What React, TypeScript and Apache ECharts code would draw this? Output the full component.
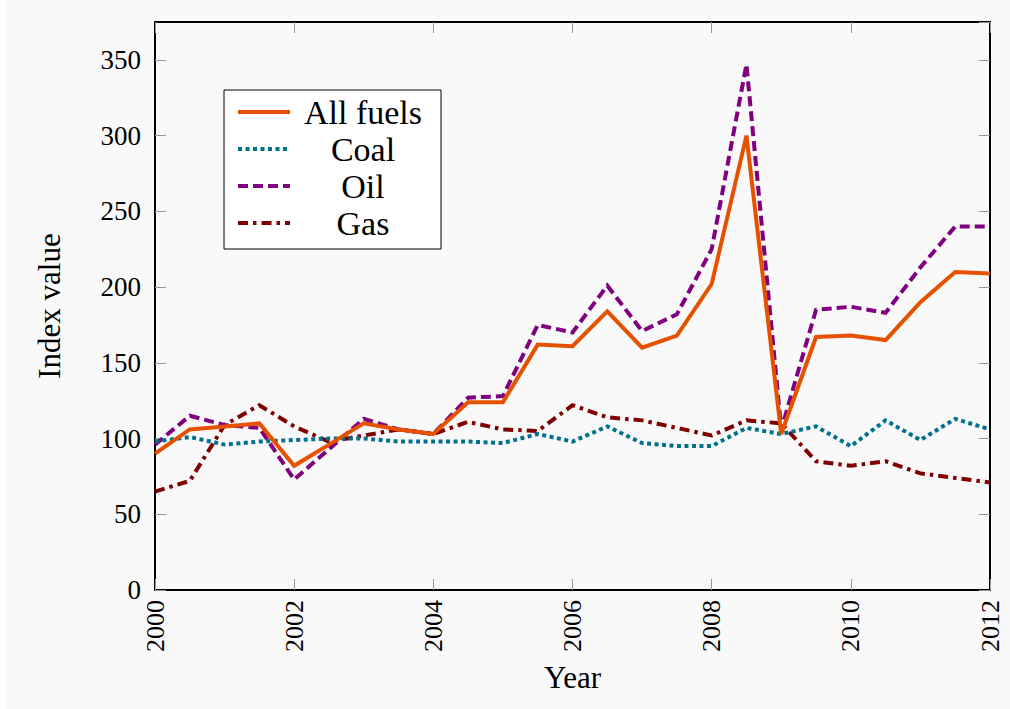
import React, { useEffect, useRef } from "react";
import * as echarts from "echarts";

const years = [2000, 2000.5, 2001, 2001.5, 2002, 2002.5, 2003, 2003.5, 2004, 2004.5, 2005, 2005.5, 2006, 2006.5, 2007, 2007.5, 2008, 2008.5, 2009, 2009.5, 2010, 2010.5, 2011, 2011.5, 2012];
const allFuels = [90, 106, 108, 110, 82, 96, 110, 106, 103, 124, 124, 162, 161, 184, 160, 168, 202, 300, 103, 167, 168, 165, 190, 210, 209];
const coal = [98, 101, 96, 98, 99, 100, 100, 98, 98, 98, 97, 103, 98, 108, 97, 95, 95, 107, 103, 108, 95, 112, 99, 113, 106];
const oil = [96, 115, 109, 107, 73, 93, 113, 106, 103, 127, 128, 175, 170, 201, 171, 182, 225, 347, 106, 185, 187, 183, 213, 240, 240];
const gas = [65, 72, 109, 122, 108, 98, 102, 106, 103, 111, 106, 105, 122, 114, 112, 107, 102, 112, 110, 85, 82, 85, 77, 74, 71];

const seriesNames = ["All fuels", "Coal", "Oil", "Gas"];
const seriesColors = ["#e65100", "#00708f", "#800080", "#7f0000"];
const seriesDash: any[] = ["solid", [4, 3.5], [10, 5], [10, 5, 3.5, 5]];
const seriesValues = [allFuels, coal, oil, gas];

const FONT = "'Liberation Serif', 'Times New Roman', serif";

export default function App() {
  const ref = useRef<HTMLDivElement>(null);
  useEffect(() => {
    if (!ref.current) return;
    const chart = echarts.init(ref.current, null, { renderer: "svg" });
    const tickStyle = { show: true, inside: true, length: 11, lineStyle: { color: "#999", width: 1 } };
    const xCommon = {
      type: "value" as const,
      min: 2000,
      max: 2012,
      interval: 2,
      splitLine: { show: false },
      axisLine: { show: true, onZero: false, lineStyle: { color: "#000", width: 2 } },
      axisTick: tickStyle,
    };
    const yCommon = {
      type: "value" as const,
      min: 0,
      max: 375,
      interval: 50,
      splitLine: { show: false },
      axisLine: { show: true, onZero: false, lineStyle: { color: "#000", width: 2 } },
      axisTick: tickStyle,
    };
    chart.setOption({
      animation: false,
      backgroundColor: "#f9f9f9",
      textStyle: { fontFamily: FONT },
      graphic: [
        { type: "rect", silent: true, shape: { x: 0, y: 0, width: 6, height: 709 }, style: { fill: "#ffffff" } },
      ],
      grid: { left: 155, right: 20, top: 22, bottom: 119, containLabel: false },
      xAxis: [
        {
          ...xCommon,
          position: "bottom",
          name: "Year",
          nameLocation: "middle",
          nameGap: 72,
          nameTextStyle: { fontFamily: FONT, fontSize: 31, color: "#000" },
          axisLabel: {
            rotate: 90,
            margin: 10,
            fontFamily: FONT,
            fontSize: 26,
            color: "#000",
            formatter: (v: number) => String(v),
          },
        },
        { ...xCommon, position: "top", axisLabel: { show: false } },
      ],
      yAxis: [
        {
          ...yCommon,
          position: "left",
          name: "Index value",
          nameLocation: "middle",
          nameGap: 90,
          nameRotate: 90,
          nameTextStyle: { fontFamily: FONT, fontSize: 31, color: "#000" },
          axisLabel: {
            margin: 14,
            fontFamily: FONT,
            fontSize: 27,
            color: "#000",
            showMaxLabel: false,
            formatter: (v: number) => (v % 50 === 0 ? String(v) : ""),
          },
        },
        { ...yCommon, position: "right", axisLabel: { show: false } },
      ],
      legend: {
        left: 224,
        top: 90,
        orient: "vertical",
        backgroundColor: "#ffffff",
        borderColor: "#000",
        borderWidth: 1,
        borderRadius: 0,
        padding: [5, 10, 9, 12],
        itemWidth: 52,
        itemHeight: 14,
        itemGap: 3,
        itemStyle: { opacity: 0 },
        lineStyle: { width: 4, cap: "butt" },
        formatter: "{c|{name}}",
        textStyle: {
          fontFamily: FONT,
          fontSize: 34,
          color: "#000",
          rich: { c: { width: 136, align: "center", fontSize: 34, fontFamily: FONT, lineHeight: 34 } },
        },
        data: seriesNames.map((name, i) => ({
          name,
          lineStyle: { width: 4, color: seriesColors[i], type: seriesDash[i], cap: "butt" },
        })),
      },
      series: seriesNames.map((name, i) => ({
        name,
        type: "line",
        xAxisIndex: 0,
        yAxisIndex: 0,
        data: years.map((y, j) => [y, seriesValues[i][j]]),
        showSymbol: false,
        symbol: "none",
        color: seriesColors[i],
        lineStyle: {
          color: seriesColors[i],
          width: 4,
          type: seriesDash[i],
          join: "miter",
          miterLimit: 10,
          cap: "butt",
        },
        z: 10 - i,
      })),
    });
    return () => chart.dispose();
  }, []);
  return <div ref={ref} style={{ position: "fixed", left: 0, top: 0, width: 1010, height: 709 }} />;
}
